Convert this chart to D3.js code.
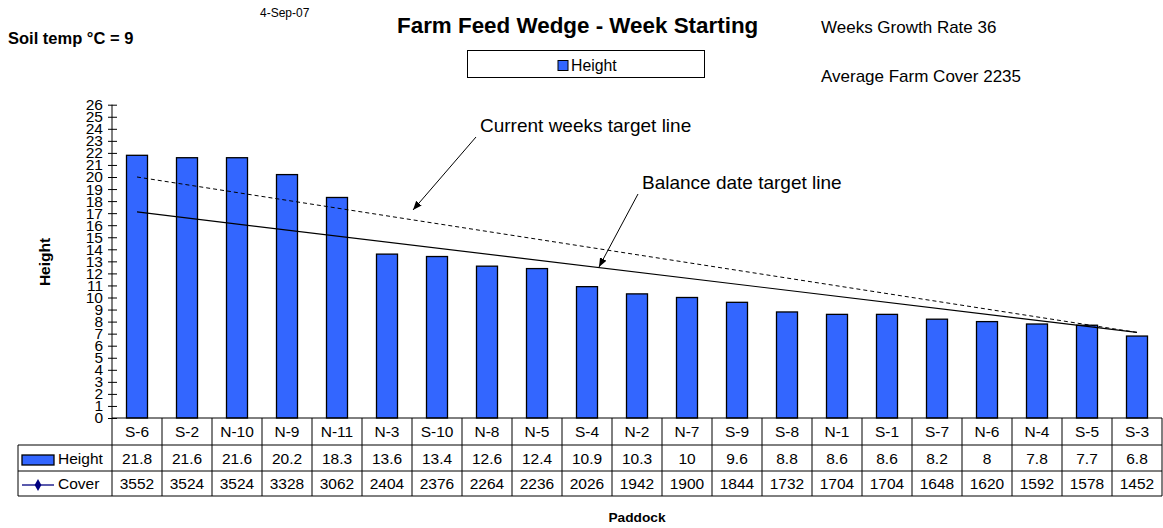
<!DOCTYPE html>
<meta charset="utf-8">
<style>
body { margin: 0; background: #fff; }
text { font-family: "Liberation Sans", Arial, sans-serif; fill: #000; }
.bold { font-weight: bold; }
</style>
<body>
<script src="https://cdn.jsdelivr.net/npm/d3@7"></script>
<script>

var paddocks = ["S-6","S-2","N-10","N-9","N-11","N-3","S-10","N-8","N-5","S-4","N-2","N-7","S-9","S-8","N-1","S-1","S-7","N-6","N-4","S-5","S-3"];
var heights = [21.8,21.6,21.6,20.2,18.3,13.6,13.4,12.6,12.4,10.9,10.3,10,9.6,8.8,8.6,8.6,8.2,8,7.8,7.7,6.8];
var covers = [3552,3524,3524,3328,3062,2404,2376,2264,2236,2026,1942,1900,1844,1732,1704,1704,1648,1620,1592,1578,1452];
var yTicks = d3.range(0, 27);
// target lines: value at first and last paddock
var currentTarget = [20.0, 7.1];
var balanceTarget = [17.1, 7.1];

var width = 1163, height = 528;
var plotLeft = 112, plotRight = 1162, plotTop = 104.7, base = 418;
var rowH = [27, 26, 25];

var svg = d3.select("body").append("svg")
    .attr("width", width)
    .attr("height", height);

var x = d3.scaleBand().domain(paddocks).range([plotLeft, plotRight]);
var y = d3.scaleLinear().domain([0, 26]).range([base, plotTop]);
var bw = x.bandwidth();

// bars
svg.selectAll("rect.bar")
    .data(paddocks)
  .enter().append("rect")
    .attr("class", "bar")
    .attr("x", function(d) { return x(d) + bw * 0.29; })
    .attr("width", bw * 0.42)
    .attr("y", function(d, i) { return y(heights[i]); })
    .attr("height", function(d, i) { return base - y(heights[i]); })
    .attr("fill", "#3366ff")
    .attr("stroke", "#000")
    .attr("stroke-width", 1.3);

// y axis
var yAxis = svg.append("g")
    .attr("transform", "translate(" + plotLeft + ",0)")
    .call(d3.axisLeft(y).tickValues(yTicks).tickFormat(d3.format("d")).tickSize(4).tickPadding(5));
yAxis.select(".domain").attr("d", "M0," + plotTop + "V" + base).attr("stroke", "#000");
yAxis.selectAll(".tick line").attr("x1", -4).attr("x2", 5).attr("stroke", "#000");
yAxis.selectAll(".tick text")
    .attr("font-family", "Liberation Sans, Arial, sans-serif")
    .attr("font-size", 15.5)
    .attr("fill", "#000");

// target lines
var ends = [paddocks[0], paddocks[paddocks.length - 1]];
var line = d3.line()
    .x(function(d, i) { return x(ends[i]) + bw / 2; })
    .y(function(d) { return y(d); });

svg.append("path")
    .attr("d", line(currentTarget))
    .attr("fill", "none")
    .attr("stroke", "#000")
    .attr("stroke-width", 1)
    .attr("stroke-dasharray", "4,3");

svg.append("path")
    .attr("d", line(balanceTarget))
    .attr("fill", "none")
    .attr("stroke", "#000")
    .attr("stroke-width", 1.2);

// annotations with arrows
svg.append("defs").append("marker")
    .attr("id", "arrow")
    .attr("viewBox", "0 0 10 10")
    .attr("refX", 10).attr("refY", 5)
    .attr("markerWidth", 9).attr("markerHeight", 9)
    .attr("orient", "auto")
  .append("path")
    .attr("d", "M0,1L10,5L0,9Z")
    .attr("fill", "#000");

svg.append("text").attr("x", 480).attr("y", 132).attr("font-size", 19).text("Current weeks target line");
svg.append("line").attr("x1", 476).attr("y1", 137).attr("x2", 413).attr("y2", 210)
    .attr("stroke", "#000").attr("marker-end", "url(#arrow)");
svg.append("text").attr("x", 642).attr("y", 189).attr("font-size", 19).text("Balance date target line");
svg.append("line").attr("x1", 638).attr("y1", 194).attr("x2", 599).attr("y2", 267)
    .attr("stroke", "#000").attr("marker-end", "url(#arrow)");

// data table
var rows = [base, base + rowH[0], base + rowH[0] + rowH[1], base + rowH[0] + rowH[1] + rowH[2]];
var table = svg.append("g").attr("stroke", "#000").attr("stroke-width", 1);
table.append("line").attr("x1", plotLeft).attr("x2", plotRight).attr("y1", rows[0]).attr("y2", rows[0]);
rows.slice(1).forEach(function(r) {
  table.append("line").attr("x1", 18).attr("x2", plotRight).attr("y1", r).attr("y2", r);
});
table.append("line").attr("x1", 18).attr("x2", 18).attr("y1", rows[1]).attr("y2", rows[3]);
table.selectAll("line.col")
    .data(paddocks.concat(["end"]))
  .enter().append("line")
    .attr("x1", function(d, i) { return i < paddocks.length ? x(d) : plotRight; })
    .attr("x2", function(d, i) { return i < paddocks.length ? x(d) : plotRight; })
    .attr("y1", rows[0]).attr("y2", rows[3]);

function rowText(vals, r) {
  svg.append("g").selectAll("text")
      .data(vals)
    .enter().append("text")
      .attr("x", function(d, i) { return x(paddocks[i]) + bw / 2; })
      .attr("y", (rows[r] + rows[r + 1]) / 2)
      .attr("dy", "0.36em")
      .attr("text-anchor", "middle")
      .attr("font-size", 15.5)
      .text(function(d) { return d; });
}
rowText(paddocks, 0);
rowText(heights, 1);
rowText(covers, 2);

// row legend keys
svg.append("rect").attr("x", 22).attr("y", 455).attr("width", 32).attr("height", 10)
    .attr("fill", "#3366ff").attr("stroke", "#000").attr("stroke-width", 1.3);
svg.append("text").attr("x", 58).attr("y", (rows[1] + rows[2]) / 2).attr("dy", "0.36em")
    .attr("font-size", 15.5).text("Height");
svg.append("line").attr("x1", 22).attr("x2", 54).attr("y1", 485).attr("y2", 485)
    .attr("stroke", "#000080").attr("stroke-width", 1.3);
svg.append("path").attr("d", d3.symbol(d3.symbolDiamond, 40)()).attr("transform", "translate(38,485)")
    .attr("fill", "#000080");
svg.append("text").attr("x", 58).attr("y", (rows[2] + rows[3]) / 2).attr("dy", "0.36em")
    .attr("font-size", 15.5).text("Cover");

// titles and notes
svg.append("text").attr("class", "bold").attr("x", 397).attr("y", 33).attr("font-size", 22.4)
    .text("Farm Feed Wedge - Week Starting");
svg.append("text").attr("x", 260).attr("y", 17).attr("font-size", 12).text("4-Sep-07");
svg.append("text").attr("class", "bold").attr("x", 8).attr("y", 44).attr("font-size", 16.5)
    .text("Soil temp °C = 9");
svg.append("text").attr("x", 821).attr("y", 33).attr("font-size", 17).text("Weeks Growth Rate 36");
svg.append("text").attr("x", 821).attr("y", 81.5).attr("font-size", 17).text("Average Farm Cover 2235");

// chart legend
svg.append("rect").attr("x", 467.5).attr("y", 50.5).attr("width", 237).attr("height", 27)
    .attr("fill", "#fff").attr("stroke", "#000");
svg.append("rect").attr("x", 558).attr("y", 60.5).attr("width", 10).attr("height", 10)
    .attr("fill", "#3366ff").attr("stroke", "#000");
svg.append("text").attr("x", 571).attr("y", 65.5).attr("dy", "0.36em").attr("font-size", 15.8).text("Height");

// axis titles
svg.append("text").attr("class", "bold").attr("transform", "translate(49.5,262) rotate(-90)")
    .attr("text-anchor", "middle").attr("font-size", 15.5).text("Height");
svg.append("text").attr("class", "bold").attr("x", (plotLeft + plotRight) / 2).attr("y", 522)
    .attr("text-anchor", "middle").attr("font-size", 13.7).text("Paddock");

</script>
</body>
